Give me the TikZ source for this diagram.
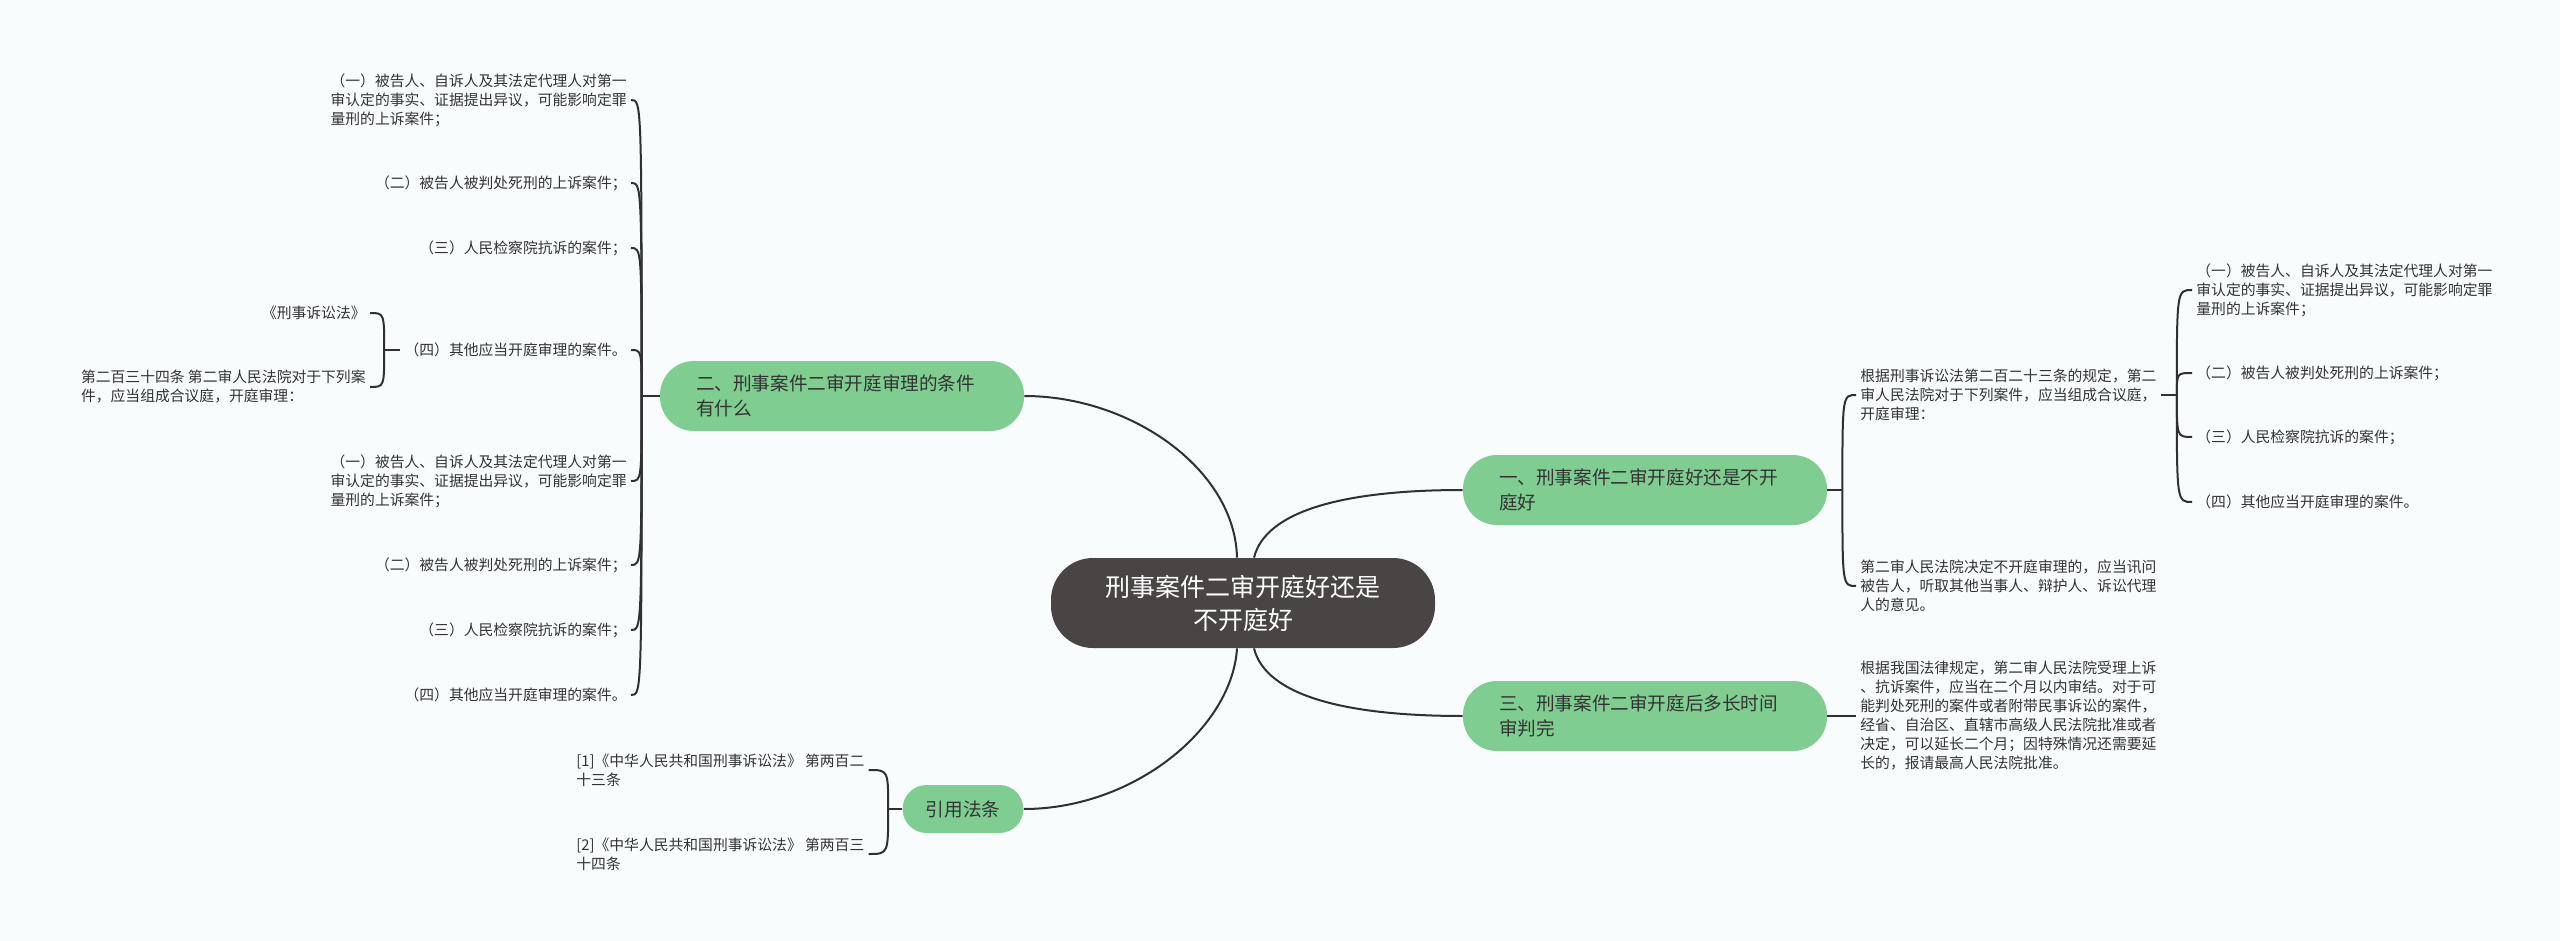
\documentclass[tikz,border=0pt]{standalone}
\usepackage{fontspec}
\setmainfont{Noto Sans CJK SC}
\usetikzlibrary{calc}
\definecolor{bgc}{RGB}{248,252,253}
\definecolor{rootc}{RGB}{74,69,69}
\definecolor{greenc}{RGB}{128,205,145}
\definecolor{linec}{RGB}{48,48,48}
\definecolor{textc}{RGB}{51,51,51}

\begin{document}
\begin{tikzpicture}[x=0.5pt,y=-0.5pt,
    root/.style={fill=rootc,text=white,rounded corners=21pt,minimum width=192pt,minimum height=45pt,align=center,font=\fontsize{12.5}{16.5}\selectfont},
    branch/.style={fill=greenc,text=textc,rounded corners=17pt,minimum height=35pt,inner xsep=18pt,text width=146pt,align=left,font=\fontsize{9.3}{12.5}\selectfont},
    leaf/.style={text=textc,inner sep=2pt,align=left,font=\fontsize{7.4}{9.5}\selectfont},
    link/.style={draw=linec,line width=1pt}]
  \useasboundingbox (0,0) rectangle (2560,941);
  \fill[bgc] (0,0) rectangle (2560,941);

  \node[root] (root) at (1243,603) {刑事案件二审开庭好还是\\不开庭好};
  \node[branch] (n1) at (1645,490) {一、刑事案件二审开庭好还是不开\\庭好};
  \node[branch] (n2) at (842,396) {二、刑事案件二审开庭审理的条件\\有什么};
  \node[branch] (n3) at (1645,716) {三、刑事案件二审开庭后多长时间\\审判完};
  \node[branch,text width=37.2pt,inner xsep=11.6pt,minimum height=24pt,rounded corners=12pt,align=center] (n4) at (963,809) {引用法条};

  \draw[link] ([xshift=5.5pt]root.north) .. controls +(12,-48) and +(-115,0) .. (n1.west);
  \draw[link] ([xshift=-3pt]root.north) .. controls +(-2,-88) and +(107,0) .. (n2.east);
  \draw[link] ([xshift=5.5pt]root.south) .. controls +(12,48) and +(-115,0) .. (n3.west);
  \draw[link] ([xshift=-3pt]root.south) .. controls +(-5,80) and +(110,0) .. (n4.east);

  % right: first branch
  \node[leaf,anchor=west] (A) at (1856,395) {根据刑事诉讼法第二百二十三条的规定，第二\\审人民法院对于下列案件，应当组成合议庭，\\开庭审理：};
  \node[leaf,anchor=west] (B) at (1856,586) {第二审人民法院决定不开庭审理的，应当讯问\\被告人，听取其他当事人、辩护人、诉讼代理\\人的意见。};
  \node[leaf,anchor=west] (a1) at (2192,290) {（一）被告人、自诉人及其法定代理人对第一\\审认定的事实、证据提出异议，可能影响定罪\\量刑的上诉案件；};
  \node[leaf,anchor=west] (a2) at (2192,373) {（二）被告人被判处死刑的上诉案件；};
  \node[leaf,anchor=west] (a3) at (2192,437) {（三）人民检察院抗诉的案件；};
  \node[leaf,anchor=west] (a4) at (2192,502) {（四）其他应当开庭审理的案件。};
  \coordinate (fork1) at ([xshift=7.5pt]n1.east);
  \coordinate (forkA) at ([xshift=8pt]A.east);
  \draw[link] (n1.east) -- (fork1);
  \foreach \c in {A,B} \draw[link] (fork1) .. controls (fork1 |- \c.west) .. (\c.west);
  \draw[link] (A.east) -- (forkA);
  \foreach \c in {a1,a2,a3,a4} \draw[link] (forkA) .. controls (forkA |- \c.west) .. (\c.west);

  % right: third branch
  \node[leaf,anchor=west] (C) at (1856,716) {根据我国法律规定，第二审人民法院受理上诉\\、抗诉案件，应当在二个月以内审结。对于可\\能判处死刑的案件或者附带民事诉讼的案件，\\经省、自治区、直辖市高级人民法院批准或者\\决定，可以延长二个月；因特殊情况还需要延\\长的，报请最高人民法院批准。};
  \draw[link] (n3.east) -- (C.west);

  % left: second branch
  \node[leaf,anchor=east] (l1) at (631,100) {（一）被告人、自诉人及其法定代理人对第一\\审认定的事实、证据提出异议，可能影响定罪\\量刑的上诉案件；};
  \node[leaf,anchor=east] (l2) at (631,183) {（二）被告人被判处死刑的上诉案件；};
  \node[leaf,anchor=east] (l3) at (631,248) {（三）人民检察院抗诉的案件；};
  \node[leaf,anchor=east] (l4) at (631,350) {（四）其他应当开庭审理的案件。};
  \node[leaf,anchor=east] (l5) at (631,481) {（一）被告人、自诉人及其法定代理人对第一\\审认定的事实、证据提出异议，可能影响定罪\\量刑的上诉案件；};
  \node[leaf,anchor=east] (l6) at (631,565) {（二）被告人被判处死刑的上诉案件；};
  \node[leaf,anchor=east] (l7) at (631,630) {（三）人民检察院抗诉的案件；};
  \node[leaf,anchor=east] (l8) at (631,695) {（四）其他应当开庭审理的案件。};
  \node[leaf,anchor=east] (k1) at (370,313) {《刑事诉讼法》};
  \node[leaf,anchor=east] (k2) at (370,387) {第二百三十四条 第二审人民法院对于下列案\\件，应当组成合议庭，开庭审理：};
  \coordinate (fork2) at ([xshift=-9pt]n2.west);
  \coordinate (forkL) at ([xshift=-8pt]l4.west);
  \draw[link] (n2.west) -- (fork2);
  \foreach \c in {l1,l2,l3,l4,l5,l6,l7,l8} \draw[link] (fork2) .. controls (fork2 |- \c.east) .. (\c.east);
  \draw[link] (l4.west) -- (forkL);
  \foreach \c in {k1,k2} \draw[link] (forkL) .. controls (forkL |- \c.east) .. (\c.east);

  % left: cited articles
  \node[leaf,anchor=west] (r1) at (572,770) {[1]《中华人民共和国刑事诉讼法》 第两百二\\十三条};
  \node[leaf,anchor=west] (r2) at (572,854) {[2]《中华人民共和国刑事诉讼法》 第两百三\\十四条};
  \coordinate (fork4) at ([xshift=-7pt]n4.west);
  \draw[link] (n4.west) -- (fork4);
  \foreach \c in {r1,r2} \draw[link] (fork4) .. controls (fork4 |- \c.east) .. (\c.east);
\end{tikzpicture}
\end{document}
